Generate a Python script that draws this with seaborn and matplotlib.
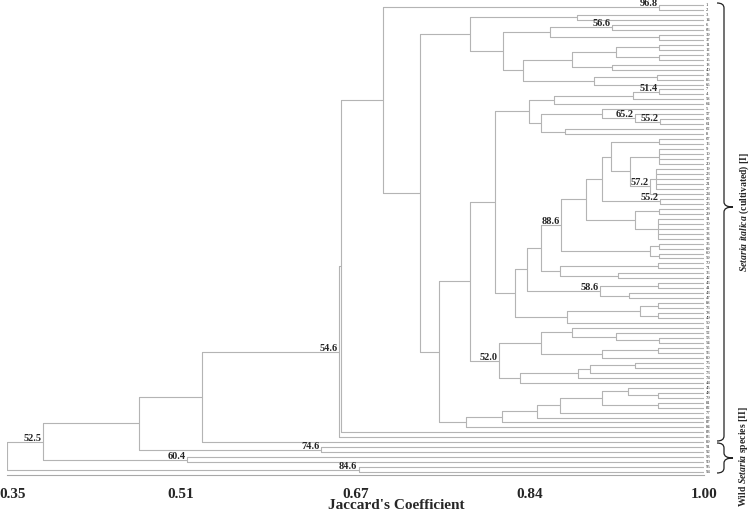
import numpy as np
import pandas as pd
import matplotlib
matplotlib.use("Agg")
import matplotlib.pyplot as plt
from matplotlib.path import Path
from matplotlib.patches import PathPatch
from matplotlib.transforms import ScaledTranslation
import seaborn as sns

# Leaf order of the dendrogram (accession numbers, top to bottom)
leaf_labels = [1, 2, 3, 14, 6, 66, 39, 37, 11, 12,
               13, 15, 18, 40, 38, 85, 65, 7, 4, 58,
               64, 5, 57, 63, 61, 62, 8, 67, 16, 9,
               10, 17, 20, 19, 23, 22, 21, 27, 24, 26,
               25, 28, 29, 31, 30, 32, 33, 34, 35, 69,
               60, 59, 70, 71, 36, 42, 46, 41, 43, 47,
               88, 76, 78, 49, 50, 51, 52, 53, 54, 55,
               56, 80, 75, 72, 73, 74, 44, 45, 48, 79,
               81, 82, 77, 68, 87, 84, 83, 86, 89, 91,
               92, 93, 90, 95, 94]

# Clusters: first leaf, last leaf (in leaf order) and Jaccard similarity at the join
clu_first = [0, 0, 93, 0, 91, 0, 89, 0, 0, 0, 0, 2,
             2, 2, 4, 4, 4, 6, 8, 8, 8, 8, 10, 12, 14, 14,
             17, 17, 17, 17, 17, 17, 17, 21, 21, 22, 23, 25,
             27, 27, 27, 27, 27, 27, 27, 27, 29, 29, 33, 33, 39, 41, 41, 43,
             48, 48, 50, 52, 52, 54, 56, 56, 58, 60, 60, 60, 62,
             65, 65, 65, 66, 67, 69, 69, 72, 72, 72, 72,
             77, 77, 77, 77, 77, 77, 78, 80]
clu_last = [94, 92, 94, 90, 92, 88, 90, 87, 86, 85, 1, 85,
            16, 3, 16, 7, 5, 7, 16, 13, 11, 9, 11, 13, 16, 15,
            85, 76, 64, 26, 20, 19, 18, 26, 24, 24, 24, 26,
            64, 59, 55, 51, 47, 40, 38, 28, 38, 32, 38, 37, 40, 47, 42, 47,
            51, 49, 51, 55, 53, 55, 59, 57, 59, 64, 63, 61, 63,
            76, 71, 68, 68, 68, 71, 70, 76, 75, 74, 73,
            85, 84, 83, 82, 81, 79, 79, 81]
clu_sim = [0.350, 0.384, 0.678, 0.473, 0.518, 0.532, 0.643, 0.660, 0.6615, 0.701, 0.958, 0.735,
           0.782, 0.882, 0.813, 0.856, 0.914, 0.958, 0.831, 0.877, 0.918, 0.958, 0.958, 0.914, 0.897, 0.956,
           0.753, 0.782, 0.805, 0.837, 0.860, 0.934, 0.958, 0.848, 0.905, 0.936, 0.959, 0.870,
           0.824, 0.835, 0.848, 0.867, 0.890, 0.905, 0.913, 0.958, 0.931, 0.958, 0.950, 0.955, 0.959, 0.936, 0.958, 0.957,
           0.950, 0.958, 0.958, 0.866, 0.957, 0.920, 0.903, 0.957, 0.930, 0.872, 0.940, 0.957, 0.957,
           0.809, 0.848, 0.877, 0.918, 0.958, 0.905, 0.957, 0.828, 0.8825, 0.894, 0.936,
           0.7785, 0.812, 0.844, 0.866, 0.905, 0.929, 0.957, 0.957]

# Bootstrap support shown on some nodes
boot_first = [0, 4, 17, 22, 23, 33, 39, 27, 56, 65, 0, 89, 91, 93, 0]
boot_last = [1, 5, 18, 24, 24, 38, 40, 51, 59, 76, 87, 90, 92, 94, 92]
boot_value = [96.8, 56.6, 51.4, 65.2, 55.2, 57.2, 55.2, 88.6, 58.6, 52.0, 54.6, 74.6, 60.4, 84.6, 52.5]

tick_values = [0.35, 0.5125, 0.675, 0.8375, 1.00]
tick_labels = ["0.35", "0.51", "0.67", "0.84", "1.00"]

# ---- build dendrogram segments from the cluster table ----
n_leaves = len(leaf_labels)
nodes = {(a, b): s for a, b, s in zip(clu_first, clu_last, clu_sim)}
for i in range(n_leaves):
    nodes.setdefault((i, i), 1.0)


def children(a, b):
    out, i = [], a
    while i <= b:
        best = (i, i)
        for (p, q) in nodes:
            if p == i and q <= b and (p, q) != (a, b) and q > best[1]:
                best = (p, q)
        out.append(best)
        i = best[1] + 1
    return out


ymid = {}
rows = []


def layout(a, b):
    if a == b:
        ymid[(a, b)] = a
        return a
    kids = children(a, b)
    ys = [layout(*k) for k in kids]
    s = nodes[(a, b)]
    seg = len(rows)
    rows.extend([(seg, s, ys[0]), (seg, s, ys[-1])])
    for k, y in zip(kids, ys):
        seg = len(rows)
        rows.extend([(seg, s, y), (seg, nodes[k], y)])
    ymid[(a, b)] = (ys[0] + ys[-1]) / 2
    return ymid[(a, b)]


layout(0, n_leaves - 1)
seg_df = pd.DataFrame(rows, columns=["seg", "x", "y"])

# ---- plot ----
sns.set_style("white")
plt.rcParams["font.family"] = ["Liberation Serif", "DejaVu Serif"]
plt.rcParams["mathtext.fontset"] = "custom"
plt.rcParams["mathtext.it"] = "Liberation Serif:italic:bold"
plt.rcParams["mathtext.rm"] = "Liberation Serif:bold"

W, H = 754, 513
fig = plt.figure(figsize=(W / 100, H / 100), dpi=100)
ax = fig.add_axes([7 / W, 38 / H, 697 / W, 475 / H])

line_col = "#b4b4b4"
sns.lineplot(data=seg_df, x="x", y="y", units="seg", estimator=None, sort=False,
             color=line_col, linewidth=0.8, ax=ax, legend=False)

ax.set_xlim(0.35, 1.0)
ax.set_ylim((475 - 5) / 4.97, -5 / 4.97)
ax.set_yticks([])
ax.set_ylabel("")
for side in ["left", "top", "right"]:
    ax.spines[side].set_visible(False)
ax.spines["bottom"].set_color("#a8a8a8")
ax.spines["bottom"].set_linewidth(0.8)

ax.set_xticks(tick_values)
ax.set_xticklabels(tick_labels, fontsize=11, fontweight="bold")
ax.set_xticks(np.linspace(0.35, 1.0, 21), minor=True)
ax.tick_params(axis="x", which="both", direction="out", length=4, width=0.8,
               color="#a8a8a8", pad=5)
first = ax.xaxis.get_major_ticks()[0].label1
first.set_transform(first.get_transform() + ScaledTranslation(6 / 100, 0, fig.dpi_scale_trans))

ax.set_xlabel("Jaccard's Coefficient", fontsize=11, fontweight="bold")
ax.xaxis.set_label_coords((396 - 7) / 697, -(499 - 475) / 475)

# leaf labels
off_leaf = ax.transData + ScaledTranslation(2 / 100, 0, fig.dpi_scale_trans)
for i, lab in enumerate(leaf_labels):
    ax.text(1.0, i, str(lab), fontsize=3.3, ha="left", va="center", transform=off_leaf)

# bootstrap values
off_boot = ax.transData + ScaledTranslation(-1.5 / 100, 1 / 100, fig.dpi_scale_trans)
for a, b, v in zip(boot_first, boot_last, boot_value):
    ax.text(nodes[(a, b)], ymid[(a, b)], f"{v:.1f}", fontsize=7.5, fontweight="bold",
            ha="right", va="baseline", transform=off_boot)


# group braces (pixel coordinates from the top-left corner)
def brace(y_top, y_bot, y_tip, x_end=717, x_s=724, x_t=733, r=5):
    pts = [(x_end, y_top), (x_s, y_top), (x_s, y_top + r), (x_s, y_tip - r),
           (x_s, y_tip), (x_t, y_tip), (x_s, y_tip), (x_s, y_tip + r),
           (x_s, y_bot - r), (x_s, y_bot), (x_end, y_bot)]
    codes = [Path.MOVETO, Path.CURVE3, Path.CURVE3, Path.LINETO, Path.CURVE3, Path.CURVE3,
             Path.CURVE3, Path.CURVE3, Path.LINETO, Path.CURVE3, Path.CURVE3]
    verts = [(x / W, 1 - y / H) for x, y in pts]
    fig.patches.append(PathPatch(Path(verts, codes), transform=fig.transFigure,
                                 fill=False, lw=0.9, edgecolor="#222222"))


brace(3, 441, 207)
brace(443, 473, 458)

fig.text(744 / W, 1 - 212 / H, r"$\mathit{Setaria\ italica}$ (cultivated) [I]", rotation=90,
         ha="center", va="center", fontsize=7, fontweight="bold")
fig.text(744 / W, 1 - 457 / H, r"Wild $\mathit{Setaria}$ species [II]", rotation=90,
         ha="center", va="center", fontsize=7, fontweight="bold")

fig.savefig("out.png", dpi=100)
